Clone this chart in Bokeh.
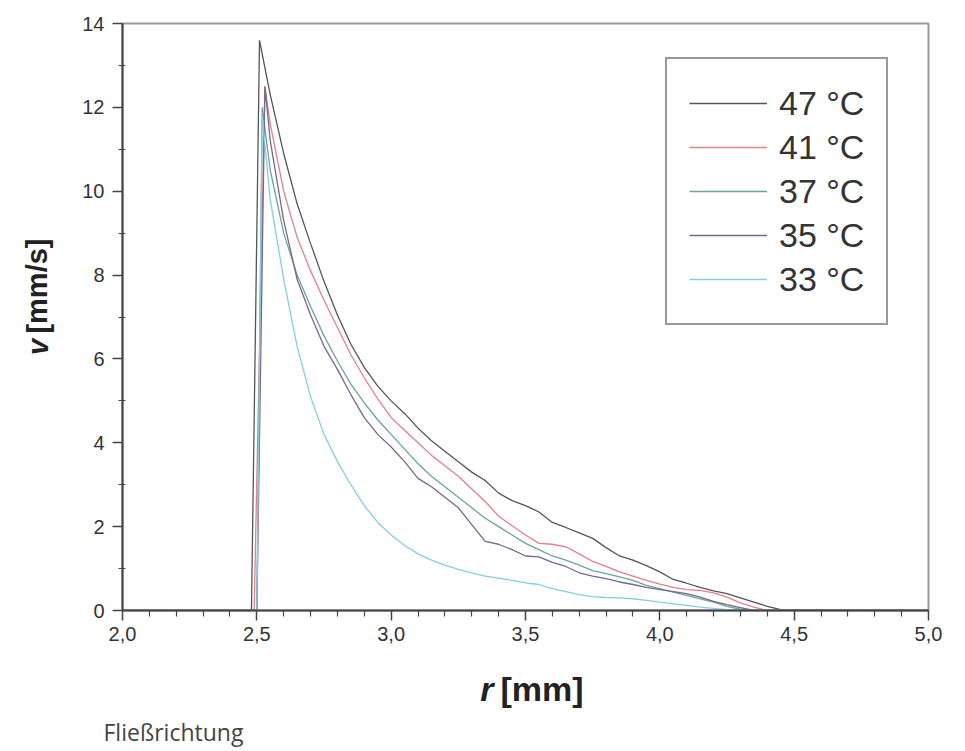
from bokeh.plotting import figure
from bokeh.layouts import column, row
from bokeh.models import Range1d, Legend, LegendItem, FixedTicker, CustomJSTickFormatter
from bokeh.embed import file_html
from bokeh.resources import INLINE
from bokeh.core.properties import value

# ---- data ----
labels = ["47 °C", "41 °C", "37 °C", "35 °C", "33 °C"]

r_grid = [2.55, 2.60, 2.65, 2.70, 2.75, 2.80, 2.85, 2.90, 2.95, 3.00,
          3.05, 3.10, 3.15, 3.20, 3.25, 3.30, 3.35, 3.40, 3.45, 3.50,
          3.55, 3.60, 3.65, 3.70, 3.75, 3.80, 3.85, 3.90, 3.95, 4.00,
          4.05, 4.10, 4.15, 4.20, 4.25, 4.30, 4.35, 4.40, 4.45]

# onset radius, peak radius, peak velocity
r_onset = [2.48, 2.49, 2.50, 2.50, 2.50]
r_peak = [2.51, 2.53, 2.52, 2.53, 2.52]
v_peak = [13.6, 12.5, 12.0, 12.5, 11.8]

v_47 = [12.3, 10.9, 9.7, 8.75, 7.85, 7.05, 6.35, 5.8, 5.35, 5.0,
        4.7, 4.35, 4.05, 3.8, 3.55, 3.3, 3.1, 2.8, 2.62, 2.5,
        2.35, 2.1, 1.98, 1.85, 1.72, 1.5, 1.3, 1.2, 1.07, 0.92,
        0.74, 0.65, 0.55, 0.47, 0.4, 0.3, 0.2, 0.1, 0.02]
v_41 = [11.6, 10.0, 8.9, 8.1, 7.4, 6.75, 6.1, 5.55, 5.05, 4.6,
        4.3, 4.0, 3.7, 3.45, 3.2, 2.9, 2.6, 2.25, 2.02, 1.8,
        1.6, 1.58, 1.52, 1.35, 1.17, 1.05, 0.92, 0.82, 0.72, 0.63,
        0.55, 0.5, 0.48, 0.42, 0.32, 0.18, 0.08, 0.0, 0.0]
v_37 = [10.5, 9.0, 8.0, 7.25, 6.55, 5.95, 5.4, 4.95, 4.55, 4.2,
        3.85, 3.5, 3.2, 2.95, 2.7, 2.45, 2.2, 2.0, 1.8, 1.6,
        1.45, 1.3, 1.2, 1.08, 0.95, 0.88, 0.8, 0.72, 0.6, 0.52,
        0.44, 0.36, 0.28, 0.2, 0.1, 0.03, 0.0, 0.0, 0.0]
v_35 = [11.2, 9.3, 7.9, 7.05, 6.3, 5.75, 5.15, 4.6, 4.2, 3.9,
        3.55, 3.15, 2.95, 2.7, 2.45, 2.05, 1.65, 1.58, 1.45, 1.3,
        1.28, 1.15, 1.05, 0.9, 0.82, 0.76, 0.68, 0.62, 0.55, 0.5,
        0.45, 0.4, 0.32, 0.22, 0.14, 0.07, 0.0, 0.0, 0.0]
v_33 = [9.8, 7.9, 6.3, 5.1, 4.2, 3.55, 3.0, 2.5, 2.1, 1.8,
        1.55, 1.35, 1.2, 1.08, 0.98, 0.9, 0.82, 0.77, 0.72, 0.66,
        0.62, 0.52, 0.45, 0.38, 0.33, 0.31, 0.3, 0.28, 0.24, 0.2,
        0.16, 0.12, 0.08, 0.05, 0.02, 0.0, 0.0, 0.0, 0.0]
series_v = [v_47, v_41, v_37, v_35, v_33]

r_min, r_max = 2.0, 5.0
x_ticks = [2.0, 2.5, 3.0, 3.5, 4.0, 4.5, 5.0]
x_minor = [2.1, 2.2, 2.3, 2.4, 2.6, 2.7, 2.8, 2.9, 3.1, 3.2, 3.3, 3.4,
           3.6, 3.7, 3.8, 3.9, 4.1, 4.2, 4.3, 4.4, 4.6, 4.7, 4.8, 4.9]
y_ticks = [0, 2, 4, 6, 8, 10, 12, 14]
y_minor = [1, 3, 5, 7, 9, 11, 13]

colors = ["#555555", "#e57f88", "#6aa596", "#75688f", "#86cde3"]

FONT = "Liberation Sans"

# ---- main figure ----
p = figure(width=890, height=655, x_range=Range1d(r_min, r_max), y_range=Range1d(0, 14),
           output_backend="svg", toolbar_location=None, title_location=None,
           min_border_left=62, min_border_right=22, min_border_top=23, min_border_bottom=45)
p.xgrid.visible = False
p.ygrid.visible = False
p.outline_line_color = "#9a9a9a"
p.outline_line_width = 2
p.background_fill_color = "white"
p.border_fill_color = "white"

for ax in (p.xaxis[0], p.yaxis[0]):
    ax.axis_line_color = "#444444"
    ax.axis_line_width = 2
    ax.major_tick_line_color = "#444444"
    ax.minor_tick_line_color = "#444444"
    ax.major_tick_line_width = 1.5
    ax.minor_tick_line_width = 1.2
    ax.major_label_text_font = FONT
    ax.major_label_text_font_size = "20px"
    ax.major_label_text_color = "#333333"

p.xaxis[0].ticker = FixedTicker(ticks=x_ticks, minor_ticks=x_minor)
p.xaxis[0].formatter = CustomJSTickFormatter(code="return tick.toFixed(1).replace('.', ',');")
p.xaxis[0].major_tick_in = 0
p.xaxis[0].major_tick_out = 10
p.xaxis[0].minor_tick_in = 0
p.xaxis[0].minor_tick_out = 6
p.xaxis[0].major_label_standoff = 6

p.yaxis[0].ticker = FixedTicker(ticks=y_ticks, minor_ticks=y_minor)
p.yaxis[0].major_tick_in = 0
p.yaxis[0].major_tick_out = 10
p.yaxis[0].minor_tick_in = 3
p.yaxis[0].minor_tick_out = 4
p.yaxis[0].major_label_standoff = 8

items = []
for lab, r0, rp, vp, vs, c in zip(labels, r_onset, r_peak, v_peak, series_v, colors):
    rs = [r_min, r0, rp] + r_grid + [r_max]
    vv = [0, 0, vp] + vs + [0]
    rend = p.line(rs, vv, line_color=c, line_width=1.3)
    items.append(LegendItem(label=lab, renderers=[rend]))

legend = Legend(items=items, location=(543, 285))
legend.border_line_color = "#333333"
legend.border_line_width = 2
legend.background_fill_color = "white"
legend.background_fill_alpha = 1.0
legend.label_text_font = FONT
legend.label_text_font_size = "34px"
legend.label_text_color = "#333333"
legend.glyph_width = 78
legend.glyph_height = 44
legend.label_height = 44
legend.spacing = 0
legend.padding = 22
legend.label_standoff = 12
legend.margin = 0
p.add_layout(legend)


def text_panel(w, h):
    f = figure(width=w, height=h, x_range=Range1d(0, w), y_range=Range1d(0, h),
               x_axis_type=None, y_axis_type=None, output_backend="svg",
               toolbar_location=None, title_location=None,
               min_border_left=0, min_border_right=0, min_border_top=0, min_border_bottom=0)
    f.outline_line_color = None
    f.background_fill_color = "white"
    f.border_fill_color = "white"
    return f


# y-axis title panel (left)
pl = text_panel(60, 655)
pl.text(x=[37], y=[285], text=["v"], angle=1.5708, text_font=value(FONT),
        text_font_size="29px", text_font_style="bold italic", text_color="#222222",
        text_align="left", text_baseline="middle")
pl.text(x=[37], y=[309], text=["[mm/s]"], angle=1.5708, text_font=value(FONT),
        text_font_size="29px", text_font_style="bold", text_color="#222222",
        text_align="left", text_baseline="middle")

# x-axis title + caption panel (bottom)
pb = text_panel(950, 94)
pb.text(x=[493], y=[61], text=["r"], text_font=value(FONT), text_font_size="34px",
        text_font_style="bold italic", text_color="#222222",
        text_align="right", text_baseline="alphabetic")
pb.text(x=[500], y=[61], text=["[mm]"], text_font=value(FONT), text_font_size="34px",
        text_font_style="bold", text_color="#222222",
        text_align="left", text_baseline="alphabetic")
pb.text(x=[103], y=[18], text=["Fließrichtung"], text_font=value("Open Sans"),
        text_font_size="23px", text_color="#444444",
        text_align="left", text_baseline="alphabetic")

layout = column(row(pl, p, spacing=0), pb, spacing=0)

open("out.html", "w").write(file_html(layout, INLINE))
